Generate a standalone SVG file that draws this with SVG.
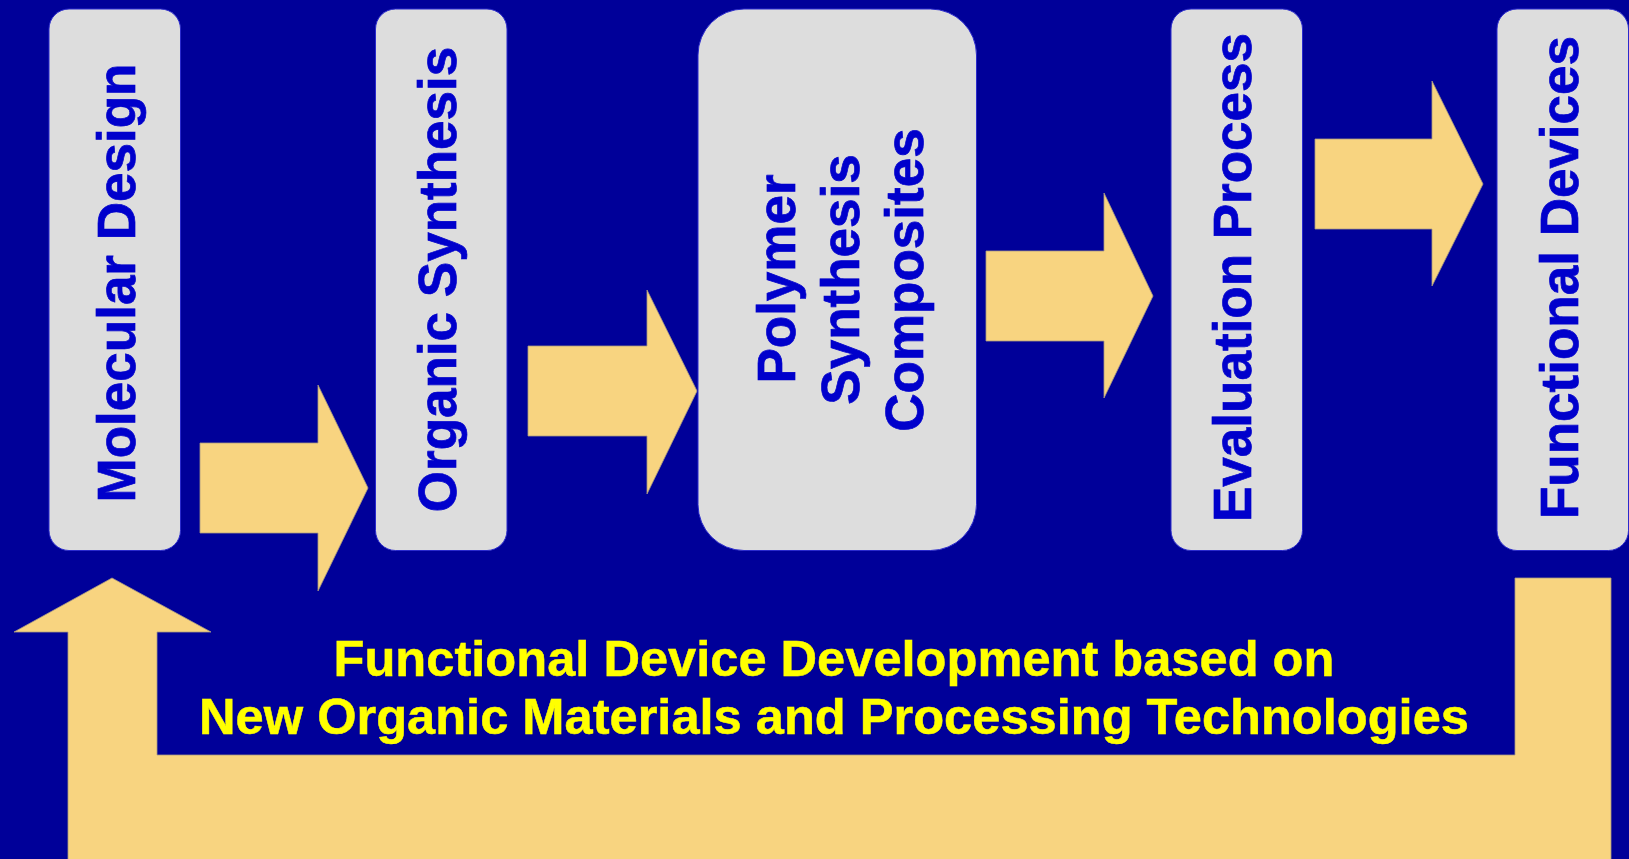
<svg xmlns="http://www.w3.org/2000/svg" width="1629" height="859" viewBox="0 0 1629 859">
  <style>
    .box { fill: #DDDDDD; stroke: #2A2ACC; stroke-width: 1; }
    .lbl { font-family: "Liberation Sans", Arial, sans-serif; font-weight: bold; font-size: 53px; fill: #0000CC; stroke: #0000CC; stroke-width: 0.7; text-anchor: middle; }
    .arrow { fill: #F8D480; stroke: #A89A80; stroke-width: 0.8; stroke-linejoin: miter; }
    .caption { font-family: "Liberation Sans", Arial, sans-serif; font-weight: bold; font-size: 50.6px; fill: #FFFF00; stroke: #FFFF00; stroke-width: 0.5; text-anchor: middle; }
  </style>

  <!-- background -->
  <rect x="0" y="0" width="1629" height="859" fill="#000099"/>

  <!-- connectors: block arrows between stages and the feedback loop -->
  <g id="connectors">
    <polygon class="arrow" points="200,443 318,443 318,385 368,488 318,591 318,533 200,533"/>
    <polygon class="arrow" points="528,346 647,346 647,290 697,391 647,494 647,436 528,436"/>
    <polygon class="arrow" points="986,251 1104,251 1104,193 1153,296 1104,398 1104,341 986,341"/>
    <polygon class="arrow" points="1315,139 1432,139 1432,81 1483,184 1432,286 1432,229 1315,229"/>
    <polygon class="arrow" points="68,860 68,632 14,632 112,578 211,632 157,632 157,755 1515,755 1515,578 1611,578 1611,860"/>
  </g>

  <!-- stage nodes -->
  <g id="molecular-design">
    <rect class="box" x="49" y="9" width="131.5" height="541.5" rx="20" ry="20"/>
    <text class="lbl" transform="translate(135,283) rotate(-90)">Molecular Design</text>
  </g>

  <g id="organic-synthesis">
    <rect class="box" x="375.5" y="9" width="131.5" height="541.5" rx="20" ry="20"/>
    <text class="lbl" transform="translate(456,279.5) rotate(-90)">Organic Synthesis</text>
  </g>

  <g id="polymer-synthesis">
    <rect class="box" x="698" y="9" width="278.5" height="541.5" rx="46" ry="46"/>
    <text class="lbl" transform="translate(795,279) rotate(-90)">Polymer</text>
    <text class="lbl" transform="translate(859,279.5) rotate(-90)">Synthesis</text>
    <text class="lbl" transform="translate(923,280) rotate(-90)">Composites</text>
  </g>

  <g id="evaluation-process">
    <rect class="box" x="1171" y="9" width="131.5" height="541.5" rx="20" ry="20"/>
    <text class="lbl" transform="translate(1251,277.5) rotate(-90)">Evaluation Process</text>
  </g>

  <g id="functional-devices">
    <rect class="box" x="1497" y="9" width="131.5" height="541.5" rx="20" ry="20"/>
    <text class="lbl" transform="translate(1578,277.5) rotate(-90)">Functional Devices</text>
  </g>

  <!-- caption inside the feedback loop -->
  <g id="caption">
    <text class="caption" x="834" y="676">Functional Device Development based on</text>
    <text class="caption" x="834" y="734">New Organic Materials and Processing Technologies</text>
  </g>
</svg>
